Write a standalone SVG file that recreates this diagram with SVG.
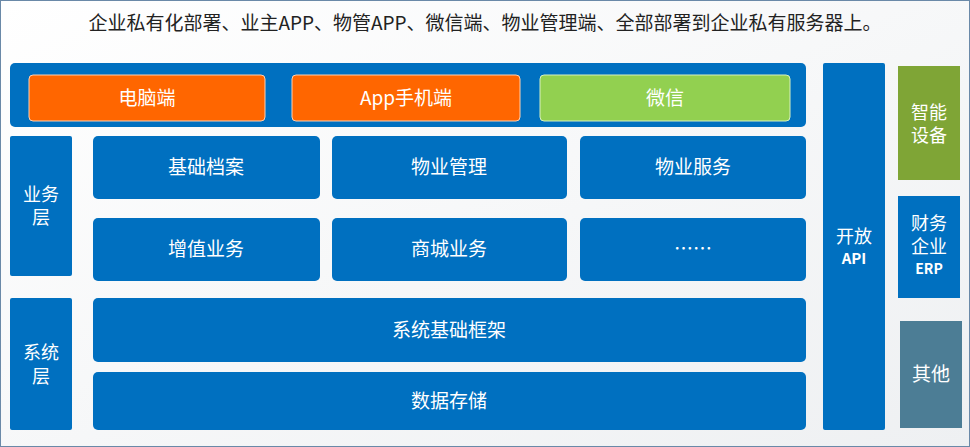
<svg xmlns="http://www.w3.org/2000/svg" width="970" height="447" viewBox="0 0 970 447">
<style>
text{font-family:"Noto Sans CJK SC","Noto Sans",sans-serif;fill:#fff;text-anchor:middle}
.b{fill:#0070c0}
.t{font-size:19px}
.s{font-size:18px}
</style>
<defs><linearGradient id="bg" x1="0" y1="0" x2="1" y2="1"><stop offset="0" stop-color="#ffffff"/><stop offset="1" stop-color="#eef0f2"/></linearGradient></defs>
<rect x="0.5" y="0.5" width="969" height="446" fill="url(#bg)" stroke="#6a89a8"/>
<text x="485" y="30" style="fill:#222;font-size:19px">企业私有化部署、业主APP、物管APP、微信端、物业管理端、全部部署到企业私有服务器上。</text>
<g id="top"><rect class="b" x="10" y="63" width="796" height="64" rx="5"/></g>
<g id="pc"><rect x="29" y="75" width="236" height="46" rx="4" fill="#ff6600" stroke="#ffd0b0"/><text class="t" x="147" y="105">电脑端</text></g>
<g id="app"><rect x="292" y="75" width="228" height="46" rx="4" fill="#ff6600" stroke="#ffd0b0"/><text class="t" x="406" y="105">App手机端</text></g>
<g id="wx"><rect x="540" y="75" width="250" height="46" rx="4" fill="#92d050" stroke="#d8f0c0"/><text class="t" x="665" y="105">微信</text></g>
<g id="biz"><rect class="b" x="10" y="136" width="62" height="140" rx="2"/><text class="s" x="41" y="201">业务</text><text class="s" x="41" y="224">层</text></g>
<g id="n1"><rect class="b" x="93" y="136" width="227" height="63" rx="5"/><text class="t" x="206" y="174">基础档案</text></g>
<g id="n2"><rect class="b" x="332" y="136" width="235" height="63" rx="5"/><text class="t" x="449" y="174">物业管理</text></g>
<g id="n3"><rect class="b" x="580" y="136" width="226" height="63" rx="5"/><text class="t" x="693" y="174">物业服务</text></g>
<g id="n4"><rect class="b" x="93" y="218" width="227" height="63" rx="5"/><text class="t" x="206" y="256">增值业务</text></g>
<g id="n5"><rect class="b" x="332" y="218" width="235" height="63" rx="5"/><text class="t" x="449" y="256">商城业务</text></g>
<g id="n6"><rect class="b" x="580" y="218" width="226" height="63" rx="5"/><text class="t" x="693" y="256">……</text></g>
<g id="sys"><rect class="b" x="10" y="298" width="62" height="132" rx="2"/><text class="s" x="41" y="359">系统</text><text class="s" x="41" y="383">层</text></g>
<g id="fw"><rect class="b" x="93" y="298" width="713" height="64" rx="5"/><text class="t" x="449" y="337">系统基础框架</text></g>
<g id="db"><rect class="b" x="93" y="372" width="713" height="58" rx="5"/><text class="t" x="449" y="408">数据存储</text></g>
<g id="api"><rect class="b" x="823" y="63" width="62" height="367" rx="2"/><text class="s" x="854" y="243">开放</text><text x="854" y="264" style="font-size:15px;font-weight:bold">API</text></g>
<g id="dev"><rect x="898" y="66" width="62" height="114" fill="#7fa536"/><text class="s" x="929" y="119">智能</text><text class="s" x="929" y="142">设备</text></g>
<g id="erp"><rect class="b" x="898" y="196" width="62" height="102"/><text class="s" x="929" y="230">财务</text><text class="s" x="929" y="253">企业</text><text x="929" y="274" style="font-size:14px;font-weight:bold">ERP</text></g>
<g id="other"><rect x="900" y="321" width="62" height="107" fill="#4c7d95"/><text class="t" x="931" y="381">其他</text></g>
<g id="connectors"/>
</svg>
